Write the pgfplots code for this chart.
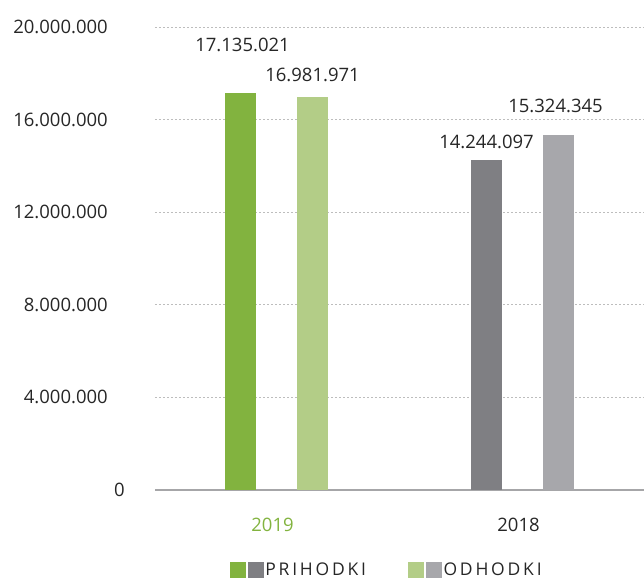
\documentclass[border=0pt]{standalone}
\usepackage{pgfplots}
\pgfplotsset{compat=1.18}
\usepackage{fontspec}
\setmainfont{Open Sans}
\definecolor{gA}{HTML}{82B33F}
\definecolor{gB}{HTML}{B3CD87}
\definecolor{kA}{HTML}{7F7F83}
\definecolor{kB}{HTML}{A7A7AB}
\definecolor{axc}{HTML}{A6A6A8}
\definecolor{txt}{HTML}{262626}
\definecolor{grd}{HTML}{BDBDBD}
\begin{document}
\begin{tikzpicture}
\path[use as bounding box] (-155pt,-91pt) rectangle (489pt,490pt);
\begin{axis}[
  scale only axis,
  width=489pt, height=463pt,
  xmin=-0.4939, xmax=1.4939,
  ymin=0, ymax=20000000,
  axis y line*=left,
  y axis line style={draw=none},
  axis x line*=bottom,
  x axis line style={-, draw=axc, line width=2pt},
  xtick={0,1},
  xticklabels={\textcolor{gA}{2019},2018},
  xticklabel style={anchor=center, yshift=-35pt, xshift=-4pt, font=\fontsize{18.5}{20}\selectfont, text=txt},
  major tick length=0pt,
  ytick={0,4000000,8000000,12000000,16000000,20000000},
  yticklabels={0\hspace*{-24pt},4.000.000,8.000.000,12.000.000,16.000.000,20.000.000},
  yticklabel style={anchor=east, inner sep=0pt, xshift=-47pt, font=\fontsize{18.5}{20}\selectfont, text=txt},
  ymajorgrids,
  major grid style={draw=grd, line width=0.8pt, dash pattern=on 2pt off 2pt},
  scaled y ticks=false,
  nodes near coords,
  point meta=explicit symbolic,
  every node near coord/.append style={anchor=center, font=\fontsize{18.5}{20}\selectfont, text=txt},
  legend columns=2,
  legend style={at={(0.474,-0.173)}, anchor=center, draw=none, fill=none,
    font=\fontsize{17.5}{20}\selectfont\addfontfeature{LetterSpace=16}, text=txt,
    /tikz/every even column/.append style={column sep=40pt}},
  legend cell align=left,
]
\addplot[ybar, bar width=31pt, fill=gA, draw=none, bar shift=-36pt, forget plot, every node near coord/.append style={xshift=-34pt, yshift=48pt}] coordinates {(0,17135021) [17.135.021]};
\addplot[ybar, bar width=31pt, fill=gB, draw=none, bar shift=36pt, forget plot, every node near coord/.append style={xshift=36pt, yshift=22pt}] coordinates {(0,16981971) [16.981.971]};
\addplot[ybar, bar width=31pt, fill=kA, draw=none, bar shift=-36pt, forget plot, every node near coord/.append style={xshift=-36pt, yshift=18pt}] coordinates {(1,14244097) [14.244.097]};
\addplot[ybar, bar width=31pt, fill=kB, draw=none, bar shift=36pt, forget plot, every node near coord/.append style={xshift=33pt, yshift=29pt}] coordinates {(1,15324345) [15.324.345]};
\addlegendimage{legend image code/.code={\fill[gA] (0pt,-7.5pt) rectangle (15pt,7.5pt); \fill[kA] (18pt,-7.5pt) rectangle (33pt,7.5pt);}}
\addlegendentry{PRIHODKI}
\addlegendimage{legend image code/.code={\fill[gB] (0pt,-7.5pt) rectangle (15pt,7.5pt); \fill[kB] (18pt,-7.5pt) rectangle (33pt,7.5pt);}}
\addlegendentry{ODHODKI}
\end{axis}
\end{tikzpicture}
\end{document}
